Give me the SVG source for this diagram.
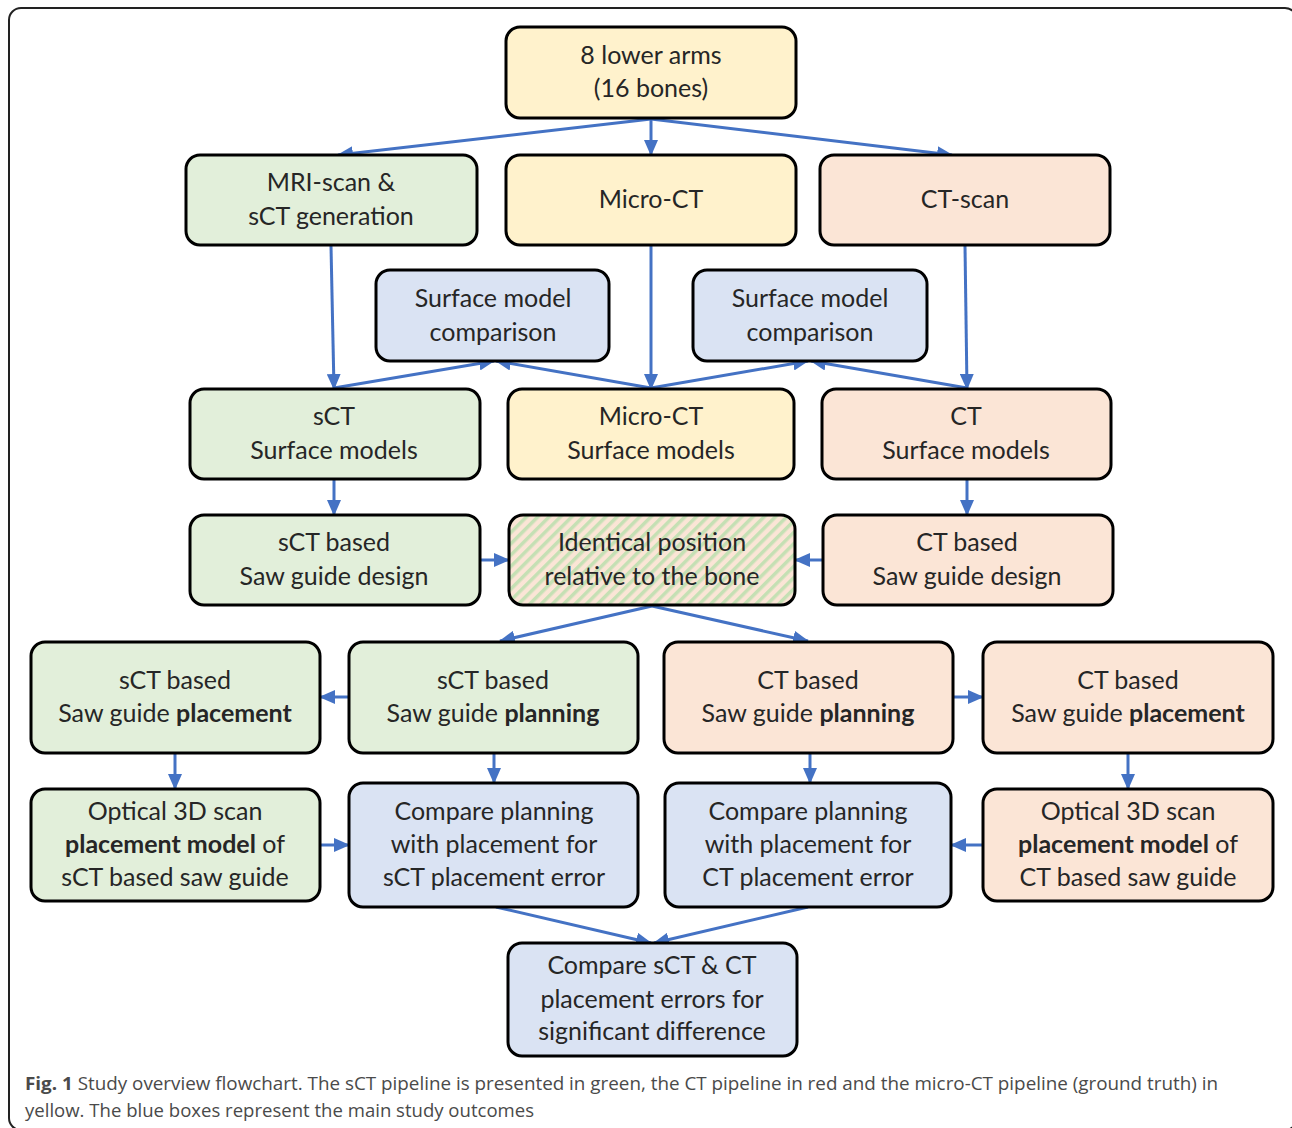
<svg xmlns="http://www.w3.org/2000/svg" width="1292" height="1128" viewBox="0 0 1292 1128">
<defs>
<style>
.box{stroke:#000;stroke-width:3}
.g{fill:#E2EFDA}.y{fill:#FFF2CC}.r{fill:#FBE5D6}.b{fill:#DAE3F3}
.t{font-family:Lato,"Open Sans",sans-serif;font-size:25px;fill:#262626;text-anchor:middle;dominant-baseline:central;transform:translateY(-2px)}
.bold{font-weight:bold}
.c line{stroke:#4472C4;stroke-width:3;marker-end:url(#ah)}
.cap{font-family:"Open Sans","Liberation Sans",sans-serif;font-size:18px;fill:#4a4a4a}
</style>
<marker id="ah" markerUnits="userSpaceOnUse" markerWidth="16" markerHeight="14" refX="15" refY="7" orient="auto">
<path d="M0,0 L16,7 L0,14 Z" fill="#4472C4"/>
</marker>
<pattern id="hatch" patternUnits="userSpaceOnUse" width="8" height="8" patternTransform="rotate(45)">
<rect width="8" height="8" fill="#FBE5D6"/>
<rect width="3.5" height="8" fill="#C5E0B4"/>
</pattern>
</defs>
<rect x="9" y="8" width="1288" height="1122" rx="12" fill="#fff" stroke="#222" stroke-width="2"/>

<g class="c">
<line x1="651" y1="119" x2="338" y2="155"/>
<line x1="651" y1="119" x2="651" y2="155"/>
<line x1="651" y1="119" x2="952" y2="155"/>
<line x1="331" y1="246" x2="334" y2="389"/>
<line x1="651" y1="246" x2="651" y2="389"/>
<line x1="965" y1="246" x2="967" y2="389"/>
<line x1="334" y1="388" x2="494" y2="361"/>
<line x1="651" y1="388" x2="496" y2="361"/>
<line x1="651" y1="388" x2="808" y2="361"/>
<line x1="967" y1="388" x2="811" y2="361"/>
<line x1="334" y1="480" x2="334" y2="515"/>
<line x1="967" y1="480" x2="967" y2="515"/>
<line x1="481" y1="560" x2="509" y2="560"/>
<line x1="823" y1="560" x2="795" y2="560"/>
<line x1="652" y1="606" x2="500" y2="641"/>
<line x1="652" y1="606" x2="808" y2="641"/>
<line x1="349" y1="697" x2="320" y2="697"/>
<line x1="953" y1="697" x2="983" y2="697"/>
<line x1="175" y1="754" x2="175" y2="789"/>
<line x1="494" y1="754" x2="494" y2="783"/>
<line x1="810" y1="754" x2="810" y2="783"/>
<line x1="1128" y1="754" x2="1128" y2="789"/>
<line x1="320" y1="845" x2="349" y2="845"/>
<line x1="983" y1="845" x2="951" y2="845"/>
<line x1="496" y1="907" x2="651" y2="943"/>
<line x1="808" y1="907" x2="654" y2="943"/>
</g>

<g id="n-arms"><rect class="box y" x="506" y="27" width="290" height="91" rx="14"/>
<text class="t" x="651" y="56">8 lower arms</text><text class="t" x="651" y="89">(16 bones)</text></g>

<g id="n-mri"><rect class="box g" x="186" y="155" width="291" height="90" rx="14"/>
<text class="t" x="331" y="183">MRI-scan &amp;</text><text class="t" x="331" y="217">sCT generation</text></g>
<g id="n-microct"><rect class="box y" x="506" y="155" width="290" height="90" rx="14"/>
<text class="t" x="651" y="200">Micro-CT</text></g>
<g id="n-ctscan"><rect class="box r" x="820" y="155" width="290" height="90" rx="14"/>
<text class="t" x="965" y="200">CT-scan</text></g>

<g id="n-smc1"><rect class="box b" x="376" y="270" width="233" height="91" rx="14"/>
<text class="t" x="493" y="299">Surface model</text><text class="t" x="493" y="333">comparison</text></g>
<g id="n-smc2"><rect class="box b" x="693" y="270" width="234" height="91" rx="14"/>
<text class="t" x="810" y="299">Surface model</text><text class="t" x="810" y="333">comparison</text></g>

<g id="n-sctsm"><rect class="box g" x="190" y="389" width="290" height="90" rx="14"/>
<text class="t" x="334" y="417">sCT</text><text class="t" x="334" y="451">Surface models</text></g>
<g id="n-microsm"><rect class="box y" x="508" y="389" width="286" height="90" rx="14"/>
<text class="t" x="651" y="417">Micro-CT</text><text class="t" x="651" y="451">Surface models</text></g>
<g id="n-ctsm"><rect class="box r" x="822" y="389" width="289" height="90" rx="14"/>
<text class="t" x="966" y="417">CT</text><text class="t" x="966" y="451">Surface models</text></g>

<g id="n-sctdesign"><rect class="box g" x="190" y="515" width="290" height="90" rx="14"/>
<text class="t" x="334" y="543">sCT based</text><text class="t" x="334" y="577">Saw guide design</text></g>
<g id="n-identical"><rect class="box" x="509" y="515" width="286" height="90" rx="14" fill="url(#hatch)"/>
<text class="t" x="652" y="543">Identical position</text><text class="t" x="652" y="577">relative to the bone</text></g>
<g id="n-ctdesign"><rect class="box r" x="823" y="515" width="290" height="90" rx="14"/>
<text class="t" x="967" y="543">CT based</text><text class="t" x="967" y="577">Saw guide design</text></g>

<g id="n-sctplace"><rect class="box g" x="31" y="642" width="289" height="111" rx="14"/>
<text class="t" x="175" y="681">sCT based</text><text class="t" x="175" y="714">Saw guide <tspan class="bold">placement</tspan></text></g>
<g id="n-sctplan"><rect class="box g" x="349" y="642" width="289" height="111" rx="14"/>
<text class="t" x="493" y="681">sCT based</text><text class="t" x="493" y="714">Saw guide <tspan class="bold">planning</tspan></text></g>
<g id="n-ctplan"><rect class="box r" x="664" y="642" width="289" height="111" rx="14"/>
<text class="t" x="808" y="681">CT based</text><text class="t" x="808" y="714">Saw guide <tspan class="bold">planning</tspan></text></g>
<g id="n-ctplace"><rect class="box r" x="983" y="642" width="290" height="111" rx="14"/>
<text class="t" x="1128" y="681">CT based</text><text class="t" x="1128" y="714">Saw guide <tspan class="bold">placement</tspan></text></g>

<g id="n-sctoptical"><rect class="box g" x="31" y="789" width="289" height="112" rx="14"/>
<text class="t" x="175" y="812">Optical 3D scan</text><text class="t" x="175" y="845"><tspan class="bold">placement model</tspan> of</text><text class="t" x="175" y="878">sCT based saw guide</text></g>
<g id="n-sctcompare"><rect class="box b" x="349" y="783" width="289" height="124" rx="14"/>
<text class="t" x="494" y="812">Compare planning</text><text class="t" x="494" y="845">with placement for</text><text class="t" x="494" y="878">sCT placement error</text></g>
<g id="n-ctcompare"><rect class="box b" x="665" y="783" width="286" height="124" rx="14"/>
<text class="t" x="808" y="812">Compare planning</text><text class="t" x="808" y="845">with placement for</text><text class="t" x="808" y="878">CT placement error</text></g>
<g id="n-ctoptical"><rect class="box r" x="983" y="789" width="290" height="112" rx="14"/>
<text class="t" x="1128" y="812">Optical 3D scan</text><text class="t" x="1128" y="845"><tspan class="bold">placement model</tspan> of</text><text class="t" x="1128" y="878">CT based saw guide</text></g>

<g id="n-final"><rect class="box b" x="508" y="943" width="289" height="113" rx="14"/>
<text class="t" x="652" y="966">Compare sCT &amp; CT</text><text class="t" x="652" y="1000">placement errors for</text><text class="t" x="652" y="1032">significant difference</text></g>

<g id="caption">
<text class="cap" x="25" y="1090" textLength="1193" lengthAdjust="spacingAndGlyphs"><tspan class="bold">Fig. 1</tspan> Study overview flowchart. The sCT pipeline is presented in green, the CT pipeline in red and the micro-CT pipeline (ground truth) in</text>
<text class="cap" x="25" y="1117" textLength="509" lengthAdjust="spacingAndGlyphs">yellow. The blue boxes represent the main study outcomes</text>
</g>
</svg>
